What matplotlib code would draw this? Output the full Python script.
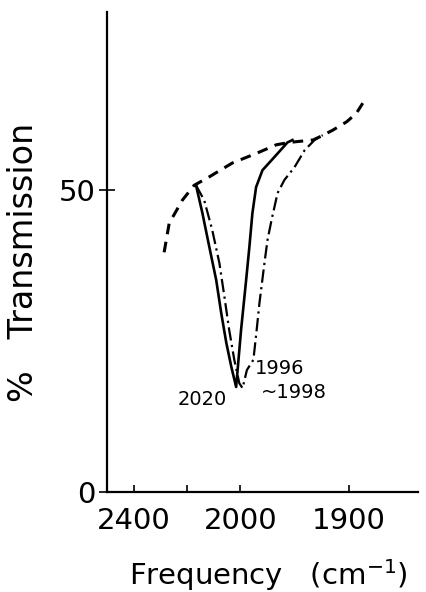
import numpy as np
import matplotlib
matplotlib.use("Agg")
import matplotlib.pyplot as plt

# ---- data (frequency in cm^-1, % transmission) ----
bg_freq = [2287, 2268, 2219, 2174, 2117, 2030, 1985, 1967, 1955, 1933, 1927, 1915, 1902, 1893, 1887]
bg_T    = [39.7, 44.5, 48.3, 50.8, 52.2, 54.5, 56.1, 57.5, 57.9, 58.3, 58.8, 59.9, 61.3, 62.7, 64.4]

b2020_freq = [2167, 2143, 2117, 2091, 2072, 2053, 2034, 2016, 1999.4, 1994.7, 1991.7, 1988.9, 1985.5, 1979.6, 1968.5, 1956.5, 1951.9]
b2020_T    = [50.8, 46.2, 40.6, 35.1, 29.6, 24.7, 20.7, 17.4, 26.8, 35.1, 40.6, 46.2, 50.5, 53.3, 55.5, 57.9, 58.3]

b1997_freq = [2167, 2136, 2106, 2079, 2060, 2042, 2023, 2004, 1998, 1994, 1988, 1985, 1982.4, 1977.8, 1975, 1971.3, 1965.7, 1959.3, 1950, 1940.7, 1931.5, 1924]
b1997_T    = [50.8, 48.3, 43.4, 37.9, 32.3, 26.8, 21.9, 18.0, 17.2, 20.2, 21.9, 26.8, 31.3, 37.9, 41.7, 45.0, 49.5, 51.7, 53.8, 56.6, 58.3, 59.1]

xticks = [2400, 2200, 2000, 1900]
xticklabels = ["2400", "", "2000", "1900"]
yticks = [0, 50]
yticklabels = ["0", "50"]

# piecewise frequency scale (scale change at 2000 cm^-1), increasing in f
def fwd(f):
    f = np.asarray(f, dtype=float)
    return np.where(f >= 2000, (f - 2000) * 53.0 / 200.0, (f - 2000) * 1.08)

def inv(u):
    u = np.asarray(u, dtype=float)
    return np.where(u >= 0, 2000 + u * 200.0 / 53.0, 2000 + u / 1.08)

plt.rcParams['font.family'] = ['DejaVu Sans']
fig = plt.figure(figsize=(4.26, 5.92), dpi=100)
ax = fig.add_axes([107/426, 1 - 492/592, (418-107)/426, (492-12)/592])
ax.set_xscale('function', functions=(fwd, inv))

ax.plot(bg_freq, bg_T, color='black', lw=2.2, linestyle=(0, (3.5, 2.5)))
ax.plot(b2020_freq, b2020_T, color='black', lw=1.9, linestyle='-')
ax.plot(b1997_freq, b1997_T, color='black', lw=1.6, linestyle=(0, (6, 2, 1, 2)))

ax.set_xlim(2502, 1836)
ax.set_ylim(0, 79.5)

ax.set_xticks(xticks)
ax.set_xticklabels(xticklabels, fontsize=21)
ax.set_yticks(yticks)
ax.set_yticklabels(yticklabels, fontsize=21)
ax.tick_params(axis='x', direction='in', length=5, width=1.2, pad=11)
ax.tick_params(axis='y', direction='inout', length=12, width=1.2, pad=2)
ax.minorticks_off()

for s in ['top', 'right']:
    ax.spines[s].set_visible(False)
for s in ['left', 'bottom']:
    ax.spines[s].set_linewidth(1.6)

ax.text(2143, 15.4, "2020", fontsize=14, ha='center', va='center')
ax.text(1964, 20.5, "1996", fontsize=14, ha='center', va='center')
ax.text(1951, 16.4, "~1998", fontsize=14, ha='center', va='center')

fig.text(268/426, 1 - 575/592, "Frequency   (cm$^{-1}$)", fontsize=21, ha='center', va='center')
fig.text(24/426, 1 - 262/592, "%   Transmission", fontsize=24, ha='center', va='center', rotation=90)

fig.savefig("out.png", dpi=100)
